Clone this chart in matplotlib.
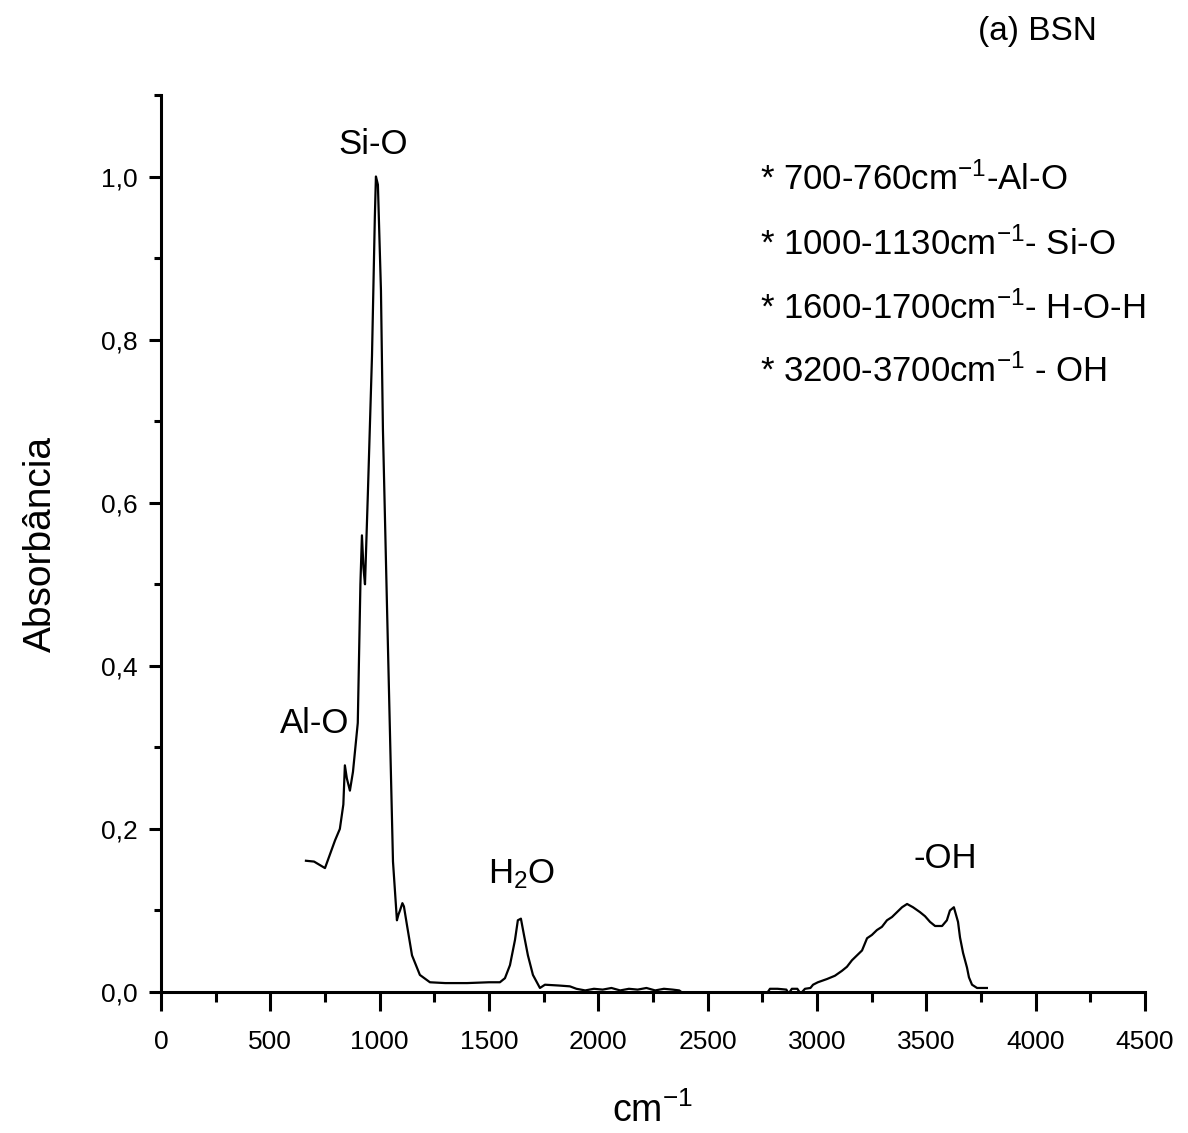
import numpy as np
import matplotlib as mpl
mpl.use("Agg")
import matplotlib.pyplot as plt
from matplotlib.ticker import MultipleLocator, FuncFormatter

plt.rcParams['font.family'] = ['Liberation Sans Narrow', 'Liberation Sans', 'DejaVu Sans']
plt.rcParams['mathtext.default'] = 'regular'

# FTIR spectrum
wavenumber = [663, 700, 750, 796, 818, 834, 841, 850, 864, 878, 900, 912, 919, 926, 933,
              946, 965, 978, 983, 992, 1006, 1015, 1033, 1047, 1061, 1079, 1086, 1093,
              1104, 1111, 1125, 1148, 1184, 1230, 1300, 1400, 1500, 1550, 1573, 1596,
              1619, 1632, 1646, 1660, 1678, 1701, 1733, 1756, 1820, 1870,
              1900, 1940, 1980, 2020, 2060, 2100, 2140, 2180, 2220, 2260, 2300, 2340, 2370,
              2400, 2600, 2770, 2785, 2820, 2860, 2870, 2885, 2910, 2925, 2945, 2970,
              2982, 3004, 3046, 3082, 3114, 3137, 3160, 3183, 3206, 3229, 3251, 3274,
              3297, 3320, 3343, 3366, 3389, 3412, 3439, 3471, 3494, 3517, 3540, 3572,
              3594, 3608, 3626, 3645, 3654, 3668, 3686, 3695, 3709, 3732, 3777]
absorbance = [0.161, 0.160, 0.152, 0.186, 0.200, 0.230, 0.278, 0.262, 0.247, 0.270, 0.330,
              0.500, 0.560, 0.520, 0.500, 0.610, 0.780, 0.950, 1.000, 0.990, 0.860, 0.690,
              0.480, 0.320, 0.160, 0.088, 0.095, 0.100, 0.109, 0.105, 0.082, 0.045, 0.021,
              0.012, 0.011, 0.011, 0.012, 0.012, 0.017, 0.033, 0.064, 0.088, 0.090, 0.070,
              0.045, 0.021, 0.005, 0.009, 0.008, 0.007,
              0.004, 0.002, 0.004, 0.003, 0.005, 0.002, 0.004, 0.003, 0.005, 0.002, 0.004,
              0.003, 0.002,
              -0.004, -0.004, -0.002, 0.004, 0.004, 0.003, -0.002, 0.004, 0.004, -0.002,
              0.004, 0.005,
              0.009, 0.012, 0.016, 0.020, 0.026, 0.031, 0.039, 0.045, 0.051, 0.066, 0.070,
              0.076, 0.080, 0.088, 0.092, 0.098, 0.104, 0.108, 0.104, 0.098, 0.093, 0.086,
              0.081, 0.081, 0.088, 0.100, 0.104, 0.086, 0.067, 0.048, 0.030, 0.018, 0.009,
              0.005, 0.005]

band_lines = [r"* 700-760cm$^{-1}$-Al-O",
              r"* 1000-1130cm$^{-1}$- Si-O",
              r"* 1600-1700cm$^{-1}$- H-O-H",
              r"* 3200-3700cm$^{-1}$ - OH"]

fig = plt.figure(figsize=(11.88, 11.33), dpi=100)
ax = fig.add_axes([0.1355, 0.1244, 0.8283, 0.7918])

ax.plot(wavenumber, absorbance, color='black', linewidth=1.6)

ax.set_xlim(0, 4500)
ax.set_ylim(0, 1.1)
ax.spines['top'].set_visible(False)
ax.spines['right'].set_visible(False)
for s in ('left', 'bottom'):
    ax.spines[s].set_linewidth(2.2)

ax.xaxis.set_major_locator(MultipleLocator(500))
ax.xaxis.set_minor_locator(MultipleLocator(250))
ax.yaxis.set_major_locator(MultipleLocator(0.2))
ax.yaxis.set_minor_locator(MultipleLocator(0.1))
ax.yaxis.set_major_formatter(FuncFormatter(lambda v, p: f"{v:.1f}".replace('.', ',')))

ax.tick_params(axis='x', which='major', direction='out', length=14, width=2.2,
               labelsize=19, pad=13)
ax.tick_params(axis='x', which='minor', direction='out', length=7, width=2.2)
ax.tick_params(axis='y', which='major', direction='out', length=9, width=2.2,
               labelsize=19, pad=8)
ax.tick_params(axis='y', which='minor', direction='out', length=5, width=2.2)

ax.set_ylabel("Absorbância", fontsize=28, labelpad=30)
ax.set_xlabel(r"cm$^{-1}$", fontsize=27, labelpad=28)

ax.text(969, 1.039, "Si-O", fontsize=25, ha='center', va='center')
ax.text(704, 0.329, "Al-O", fontsize=25, ha='center', va='center')
ax.text(1651, 0.145, r"H$_2$O", fontsize=25, ha='center', va='center')
ax.text(3585, 0.164, "-OH", fontsize=25, ha='center', va='center')

ys = [0.996, 0.917, 0.838, 0.761]
for line, yv in zip(band_lines, ys):
    ax.text(2739, yv, line, fontsize=25, ha='left', va='center')

fig.text(0.823, 0.972, "(a) BSN", fontsize=24, ha='left', va='center')

fig.savefig("out.png", dpi=100)
